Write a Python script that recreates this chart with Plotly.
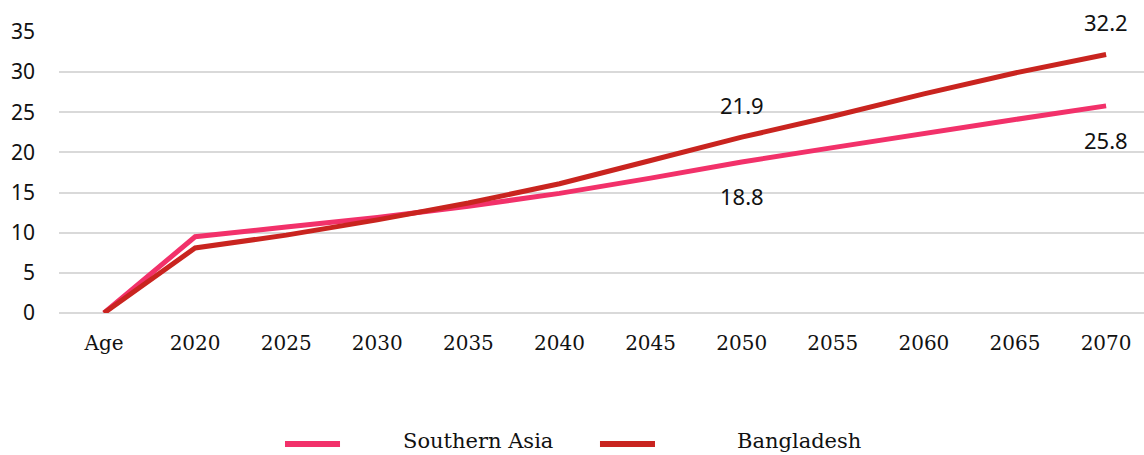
import plotly.graph_objects as go

categories = ["Age", "2020", "2025", "2030", "2035", "2040", "2045", "2050", "2055", "2060", "2065", "2070"]
southern_asia = [0, 9.5, 10.7, 11.9, 13.3, 14.9, 16.8, 18.8, 20.6, 22.4, 24.1, 25.8]
bangladesh = [0, 8.1, 9.7, 11.6, 13.7, 16.1, 19.0, 21.9, 24.5, 27.3, 29.9, 32.2]
labelled = ["2050", "2070"]
y_ticks = [0, 5, 10, 15, 20, 25, 30, 35]
series_names = ["Southern Asia", "Bangladesh"]

pink = "#F2316A"
red = "#C9241F"

fig = go.Figure()
fig.add_trace(go.Scatter(x=categories, y=southern_asia, name=series_names[0], mode="lines",
                         line=dict(color=pink, width=5), cliponaxis=False, showlegend=False))
fig.add_trace(go.Scatter(x=categories, y=bangladesh, name=series_names[1], mode="lines",
                         line=dict(color=red, width=5), cliponaxis=False, showlegend=False))

for c in labelled:
    i = categories.index(c)
    fig.add_annotation(x=i, y=bangladesh[i], xref="x", yref="y", text=f"{bangladesh[i]:.1f}",
                       showarrow=False, yshift=32,
                       font=dict(family="Noto Sans", size=22, color="#111"))
    fig.add_annotation(x=i, y=southern_asia[i], xref="x", yref="y", text=f"{southern_asia[i]:.1f}",
                       showarrow=False, yshift=-34,
                       font=dict(family="Noto Sans", size=22, color="#111"))

# legend drawn as key lines + labels below the plot
legend_items = [(series_names[0], pink, 0.2083, 0.2590, 0.3152),
                (series_names[1], red, 0.4986, 0.5493, 0.6230)]
for name, col, x0, x1, xt in legend_items:
    fig.add_shape(type="line", xref="paper", yref="paper", x0=x0, x1=x1, y0=-0.4660, y1=-0.4660,
                  line=dict(color=col, width=6))
    fig.add_annotation(xref="paper", yref="paper", x=xt, y=-0.4555, xanchor="left", yanchor="middle",
                       text=name, showarrow=False,
                       font=dict(family="DejaVu Serif", size=21, color="#111"))

fig.update_layout(
    width=1144, height=455,
    margin=dict(l=59, r=0, t=32, b=142),
    paper_bgcolor="white", plot_bgcolor="white",
    showlegend=False,
)
fig.update_xaxes(type="category", range=[-0.494, 11.416], showgrid=False, showline=False,
                 ticks="", tickfont=dict(family="DejaVu Serif", size=20, color="#111"),
                 ticklabelstandoff=16)
fig.update_yaxes(range=[0, 35], tickvals=y_ticks, showgrid=True, gridcolor="#D9D9D9", gridwidth=2,
                 zeroline=True, zerolinecolor="#D9D9D9", zerolinewidth=2, showline=False, ticks="",
                 tickfont=dict(family="Noto Sans", size=21, color="#111"), ticklabelstandoff=23)

fig.write_html("out.html", config={"displayModeBar": False},
               post_script="document.body.style.margin='0';document.body.style.overflow='hidden';")
